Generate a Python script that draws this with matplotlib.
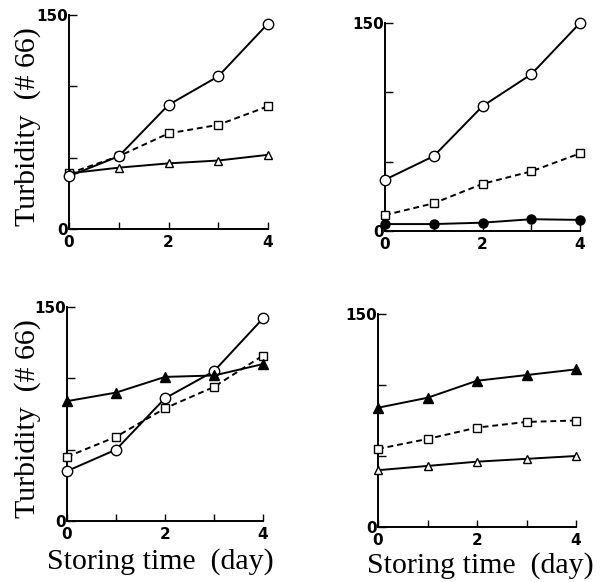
import matplotlib
matplotlib.use("Agg")
import matplotlib.pyplot as plt

days = [0, 1, 2, 3, 4]

# Panel A (top-left)
a_open_circle = [37, 51, 87, 107, 144]
a_open_square = [39, 51, 67, 73, 86]
a_open_triangle = [39, 43, 46, 48, 52]

# Panel B (top-right)
b_open_circle = [37, 54, 90, 113, 150]
b_open_square = [11.5, 20, 34, 43, 56]
b_filled_circle = [5, 5, 6, 8.5, 8]

# Panel C (bottom-left)
c_filled_triangle = [84, 90, 101, 102, 110]
c_open_circle = [35, 50, 86, 105, 142]
c_open_square = [45, 59, 79, 94, 116]

# Panel D (bottom-right)
d_filled_triangle = [84, 91, 103, 107, 111]
d_open_square = [55, 62, 70, 74, 75]
d_open_triangle = [40, 43, 46, 48, 50]

xtick_vals = [0, 1, 2, 3, 4]
xtick_labels = ["0", "", "2", "", "4"]
ytick_vals = [0, 50, 100, 150]
ytick_labels = ["0", "", "", "150"]

ylabel_text = "Turbidity  (# 66)"
xlabel_text = "Storing time  (day)"

W, H = 604, 582
fig = plt.figure(figsize=(W / 100, H / 100), dpi=100)

def px_axes(x0, x1, ytop, ybot):
    return fig.add_axes([x0 / W, 1 - ybot / H, (x1 - x0) / W, (ybot - ytop) / H])

axA = px_axes(69, 268, 15, 229)
axB = px_axes(385, 580, 23, 231)
axC = px_axes(67, 263, 307, 521)
axD = px_axes(378, 576, 314, 527)

lw = 1.4
def line(ax, y, marker, filled, dashed=False, ms=6):
    ax.plot(days, y, color="black", lw=lw, ls=(0, (3, 2)) if dashed else "-",
            marker=marker, markersize=ms, markeredgewidth=1.0,
            markerfacecolor="black" if filled else "white",
            markeredgecolor="black", clip_on=False, zorder=3)

line(axA, a_open_square, "s", False, dashed=True, ms=5.5)
line(axA, a_open_triangle, "^", False, ms=6)
line(axA, a_open_circle, "o", False, ms=7.5)

line(axB, b_open_square, "s", False, dashed=True, ms=5.5)
line(axB, b_filled_circle, "o", True, ms=6.5)
line(axB, b_open_circle, "o", False, ms=7.5)

line(axC, c_open_square, "s", False, dashed=True, ms=5.5)
line(axC, c_open_circle, "o", False, ms=7.5)
line(axC, c_filled_triangle, "^", True, ms=6.5)

line(axD, d_filled_triangle, "^", True, ms=6.5)
line(axD, d_open_square, "s", False, dashed=True, ms=5.5)
line(axD, d_open_triangle, "^", False, ms=6)

for ax in (axA, axB, axC, axD):
    ax.set_xlim(0, 4)
    ax.set_ylim(0, 150)
    ax.spines["top"].set_visible(False)
    ax.spines["right"].set_visible(False)
    for s in ("left", "bottom"):
        ax.spines[s].set_linewidth(1.4)
    ax.set_xticks(xtick_vals)
    ax.set_xticklabels(xtick_labels)
    ax.set_yticks(ytick_vals)
    ax.set_yticklabels(ytick_labels)
    ax.tick_params(axis="x", direction="in", length=5, width=1.0, pad=4,
                   labelsize=11)
    ax.tick_params(axis="y", direction="in", length=6, width=1.0, pad=1,
                   labelsize=11)
    for lab in ax.get_xticklabels() + ax.get_yticklabels():
        lab.set_fontweight("bold")
        lab.set_family("DejaVu Sans")
    ax.patch.set_alpha(0)

serif = ["Liberation Serif", "DejaVu Serif"]
fig.text(28 / W, 1 - 127 / H, ylabel_text, rotation=90, ha="center", va="center",
         fontsize=21.5, family=serif)
fig.text(28 / W, 1 - 419 / H, ylabel_text, rotation=90, ha="center", va="center",
         fontsize=21.5, family=serif)
fig.text(160 / W, 1 - 562 / H, xlabel_text, ha="center", va="center",
         fontsize=21.5, family=serif)
fig.text(480 / W, 1 - 566 / H, xlabel_text, ha="center", va="center",
         fontsize=21.5, family=serif)

fig.savefig("out.png", dpi=100)
